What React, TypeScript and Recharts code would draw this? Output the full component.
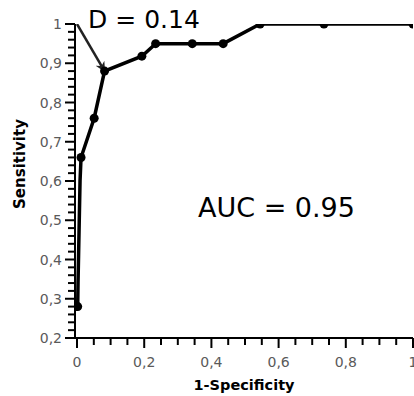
import React from 'react';
import { LineChart, Line, XAxis, YAxis, ReferenceDot, Label } from 'recharts';

// ROC curve points (1-Specificity, Sensitivity)
const fprValues = [0.002, 0.003, 0.006, 0.009, 0.012, 0.051, 0.082, 0.193, 0.234, 0.343, 0.435, 0.545, 0.735, 1.0];
const tprValues = [0.28, 0.34, 0.47, 0.6, 0.66, 0.76, 0.88, 0.918, 0.95, 0.95, 0.95, 1.0, 1.0, 1.0];
const markerShown = [true, false, false, false, true, true, true, true, true, true, true, true, true, true];

// Arrow from ideal corner (0,1) to optimal point
const arrowFpr = [0, 0.082];
const arrowTpr = [1, 0.88];

const xTicks = [0, 0.05, 0.1, 0.15, 0.2, 0.25, 0.3, 0.35, 0.4, 0.45, 0.5, 0.55, 0.6, 0.65, 0.7, 0.75, 0.8, 0.85, 0.9, 0.95, 1];
const xMajorTicks = [0, 0.2, 0.4, 0.6, 0.8, 1];
const yTicks = [0.2, 0.22, 0.24, 0.26, 0.28, 0.3, 0.32, 0.34, 0.36, 0.38, 0.4, 0.42, 0.44, 0.46, 0.48, 0.5, 0.52, 0.54, 0.56, 0.58, 0.6, 0.62, 0.64, 0.66, 0.68, 0.7, 0.72, 0.74, 0.76, 0.78, 0.8, 0.82, 0.84, 0.86, 0.88, 0.9, 0.92, 0.94, 0.96, 0.98, 1];
const yMajorTicks = [0.2, 0.3, 0.4, 0.5, 0.6, 0.7, 0.8, 0.9, 1];

const annotationTexts = ['D = 0.14', 'AUC = 0.95'];
const annotationX = [0.033, 0.36];
const annotationY = [0.99, 0.508];

const xTitle = '1-Specificity';
const yTitle = 'Sensitivity';

const rocData = fprValues.map((f, i) => ({ fpr: f, tpr: tprValues[i], mark: markerShown[i] }));
const arrowData = arrowFpr.map((f, i) => ({ fpr: f, tpr: arrowTpr[i] }));

const isMajor = (v: number, list: number[]) => list.some((m) => Math.abs(m - v) < 1e-6);
const fmt = (v: number) => String(Math.round(v * 100) / 100).replace('.', ',');

const FONT = 'DejaVu Sans';
const LABEL_COLOR = '#5a5a5a';

const XTick = (props: any) => {
  const { x, y, payload } = props;
  const major = isMajor(payload.value, xMajorTicks);
  return (
    <g>
      <line x1={x} x2={x} y1={y} y2={y + (major ? 10 : 7)} stroke="#000" strokeWidth={2} />
      {major && (
        <text x={x} y={y + 29} textAnchor="middle" fill={LABEL_COLOR} fontSize={14} fontFamily={FONT}>
          {fmt(payload.value)}
        </text>
      )}
    </g>
  );
};

const YTick = (props: any) => {
  const { x, y, payload } = props;
  const major = isMajor(payload.value, yMajorTicks);
  return (
    <g>
      <line x1={x - (major ? 10 : 7)} x2={x} y1={y} y2={y} stroke="#000" strokeWidth={2} />
      {major && (
        <text x={x - 13} y={y + 5} textAnchor="end" fill={LABEL_COLOR} fontSize={14} fontFamily={FONT}>
          {fmt(payload.value)}
        </text>
      )}
    </g>
  );
};

const RocDot = (props: any) => {
  const { cx, cy, payload, index } = props;
  if (!payload || !payload.mark) return <g key={`d${index}`} />;
  return <circle key={`d${index}`} cx={cx} cy={cy} r={4.5} fill="#000" />;
};

const YTitle = (props: any) => {
  const cx = 20;
  const cy = 164;
  return (
    <text
      x={cx}
      y={cy}
      transform={`rotate(-90, ${cx}, ${cy})`}
      textAnchor="middle"
      dominantBaseline="central"
      fontSize={15}
      fontWeight="bold"
      fontFamily={FONT}
      fill="#000"
    >
      {yTitle}
    </text>
  );
};

const makeTextShape = (txt: string, size: number) => (props: any) => (
  <text x={props.cx} y={props.cy} fontSize={size} fontFamily={FONT} fill="#000">
    {txt}
  </text>
);

export default function App() {
  return (
    <div style={{ position: 'absolute', left: 0, top: 0 }}>
      <svg width={0} height={0} style={{ position: 'absolute' }}>
        <defs>
          <marker id="arrowHead" viewBox="0 0 10 10" refX="9" refY="5" markerWidth="4" markerHeight="4" orient="auto">
            <path d="M0,0 L10,5 L0,10 L3,5 z" fill="#222" />
          </marker>
        </defs>
      </svg>
      <LineChart width={414} height={396} margin={{ top: 24, right: 1, left: 0, bottom: 0 }}>
        <XAxis
          type="number"
          dataKey="fpr"
          domain={[-0.006, 1]}
          ticks={xTicks}
          interval={0}
          tick={<XTick />}
          tickLine={false}
          tickSize={0}
          tickMargin={0}
          axisLine={{ stroke: '#000', strokeWidth: 2 }}
          height={58}
          allowDataOverflow
        >
          <Label
            value={xTitle}
            position="insideBottom"
            offset={6}
            style={{ fontSize: 14.5, fontWeight: 'bold', fontFamily: FONT, fill: '#000' }}
          />
        </XAxis>
        <YAxis
          type="number"
          dataKey="tpr"
          domain={[0.2, 1]}
          ticks={yTicks}
          interval={0}
          tick={<YTick />}
          tickLine={false}
          tickSize={0}
          tickMargin={0}
          axisLine={{ stroke: '#000', strokeWidth: 2 }}
          width={75}
          allowDataOverflow
        >
          <Label content={<YTitle />} />
        </YAxis>
        <Line
          data={arrowData}
          dataKey="tpr"
          stroke="#222"
          strokeWidth={2.5}
          dot={false}
          activeDot={false}
          isAnimationActive={false}
          markerEnd="url(#arrowHead)"
        />
        <Line
          data={rocData}
          dataKey="tpr"
          stroke="#000"
          strokeWidth={3.5}
          dot={<RocDot />}
          activeDot={false}
          isAnimationActive={false}
        />
        <ReferenceDot
          x={annotationX[0]}
          y={annotationY[0]}
          r={0}
          ifOverflow="visible"
          shape={makeTextShape(annotationTexts[0], 25)}
        />
        <ReferenceDot
          x={annotationX[1]}
          y={annotationY[1]}
          r={0}
          ifOverflow="visible"
          shape={makeTextShape(annotationTexts[1], 27)}
        />
      </LineChart>
    </div>
  );
}
